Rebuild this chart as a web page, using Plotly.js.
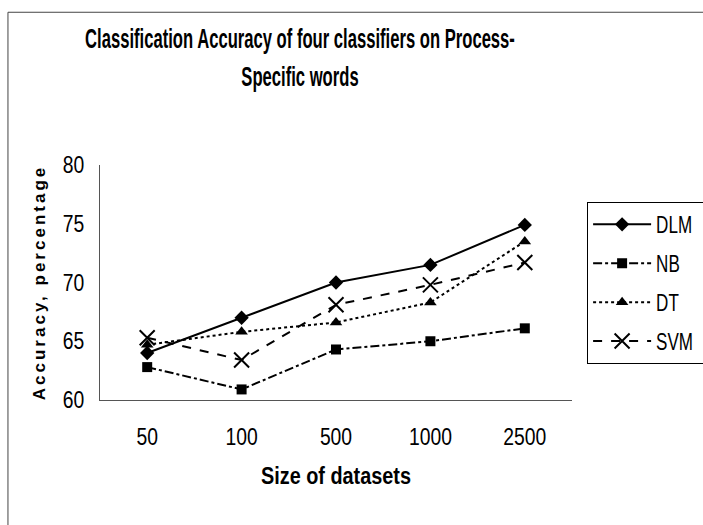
<!DOCTYPE html>
<html><head><meta charset="utf-8">
<script src="https://cdn.plot.ly/plotly-3.0.1.min.js"></script>
<style>
body{margin:0;background:#fff;}
#chart{width:703px;height:525px;}
.ytitle{letter-spacing:3px;}
</style>
</head><body>
<div id="chart"></div>
<script>
const categories = ["50","100","500","1000","2500"];
const dlm = [64.0, 67.0, 70.0, 71.5, 74.9];
const nb  = [62.8, 60.9, 64.3, 65.0, 66.1];
const dt  = [64.7, 65.8, 66.6, 68.3, 73.5];
const svm = [65.3, 63.4, 68.1, 69.8, 71.7];
const seriesNames = ["DLM","NB","DT","SVM"];

const FONT = "'Liberation Sans',Arial,sans-serif";

function tr(name, y, dash, symbol, size, lw){
  return {x: categories, y: y, name: name, type:'scatter', mode:'lines+markers',
    legendgroup: name,
    line:{color:'#000', width:2, dash:dash},
    marker:{symbol:symbol, size:size, color:'#000', line:{color:'#000', width:lw}}};
}
const data = [
  tr(seriesNames[0], dlm, 'solid', 'diamond', 11, 0),
  tr(seriesNames[1], nb, 'dashdot', 'square', 10, 0),
  tr(seriesNames[2], dt, 'dot', 'triangle-up', 11, 0),
  tr(seriesNames[3], svm, 'dash', 'x-thin-open', 15, 2)
];
const layout = {
  width:703, height:525,
  paper_bgcolor:'#fff', plot_bgcolor:'#fff',
  margin:{l:100, r:131, t:165, b:125, autoexpand:false},
  title:{text:'<b>Classification Accuracy of four classifiers on Process-<br>Specific words</b>',
    font:{family:FONT, size:28, color:'#000'},
    x:0.4237, xref:'paper', xanchor:'center', yref:'container', y:0.908, yanchor:'top'},
  xaxis:{type:'category', range:[-0.5,4.5], showline:true, linecolor:'#555', linewidth:1,
    ticks:'', showgrid:false, zeroline:false, automargin:false,
    tickfont:{family:FONT, size:23, color:'#000'},
    ticklabelstandoff:16,
    title:{text:'<b>Size of datasets</b>', font:{family:FONT, size:24, color:'#000'}, standoff:18}},
  yaxis:{range:[60,80], dtick:5, showline:true, linecolor:'#555', linewidth:1,
    ticks:'', showgrid:false, zeroline:false, automargin:false,
    tickfont:{family:FONT, size:23, color:'#000'},
    ticklabelstandoff:8,
    title:{text:'<b>Accuracy, percentage</b>', font:{family:FONT, size:17, color:'#000'}, standoff:10}},
  legend:{x:1.032, xanchor:'left', y:0.843, yanchor:'top',
    bordercolor:'#000', borderwidth:1, bgcolor:'#fff',
    font:{family:FONT, size:23, color:'#000'},
    tracegroupgap:6, itemwidth:58},
  shapes:[{type:'rect', xref:'paper', yref:'paper', x0:-0.195, x1:1.3, y0:-0.55, y1:1.65,
    line:{color:'#444', width:1}, fillcolor:'rgba(0,0,0,0)', layer:'below'}],
  showlegend:true
};

function squeeze(el, s, anchorLeft){
  const bb = el.getBBox();
  const cx = anchorLeft ? bb.x : bb.x + bb.width/2;
  const old = el.getAttribute('transform') || '';
  el.setAttribute('transform', old + ' translate(' + cx + ',0) scale(' + s + ',1) translate(' + (-cx) + ',0)');
}
function fitFactor(el, target){
  const w = el.getBBox().width;
  return w > 0 ? target / w : 1;
}

Plotly.newPlot('chart', data, layout, {displayModeBar:false, staticPlot:true}).then(function(gd){
  const t = gd.querySelector('.g-gtitle text.gtitle');
  if (t) {
    const lines = t.querySelectorAll('tspan.line');
    if (lines.length > 1) lines[1].setAttribute('dy', '1.35em');
    const first = lines.length ? lines[0] : t;
    const s = 430 / first.getComputedTextLength();
    squeeze(t, s);
  }
  const tickEls = gd.querySelectorAll('.xtick text, .ytick text');
  let tickS = 0.85;
  tickEls.forEach(function(el){ if (el.textContent === '2500') tickS = fitFactor(el, 43); });
  tickEls.forEach(function(el){ squeeze(el, tickS); });
  const xt = gd.querySelector('text.xtitle');
  if (xt) squeeze(xt, fitFactor(xt, 150));
  const legTexts = gd.querySelectorAll('.legend text.legendtext');
  let legS = 0.85;
  legTexts.forEach(function(el){ if (el.textContent === 'DLM') legS = fitFactor(el, 36); });
  legTexts.forEach(function(el){ squeeze(el, legS, true); });
});
</script>
</body></html>
